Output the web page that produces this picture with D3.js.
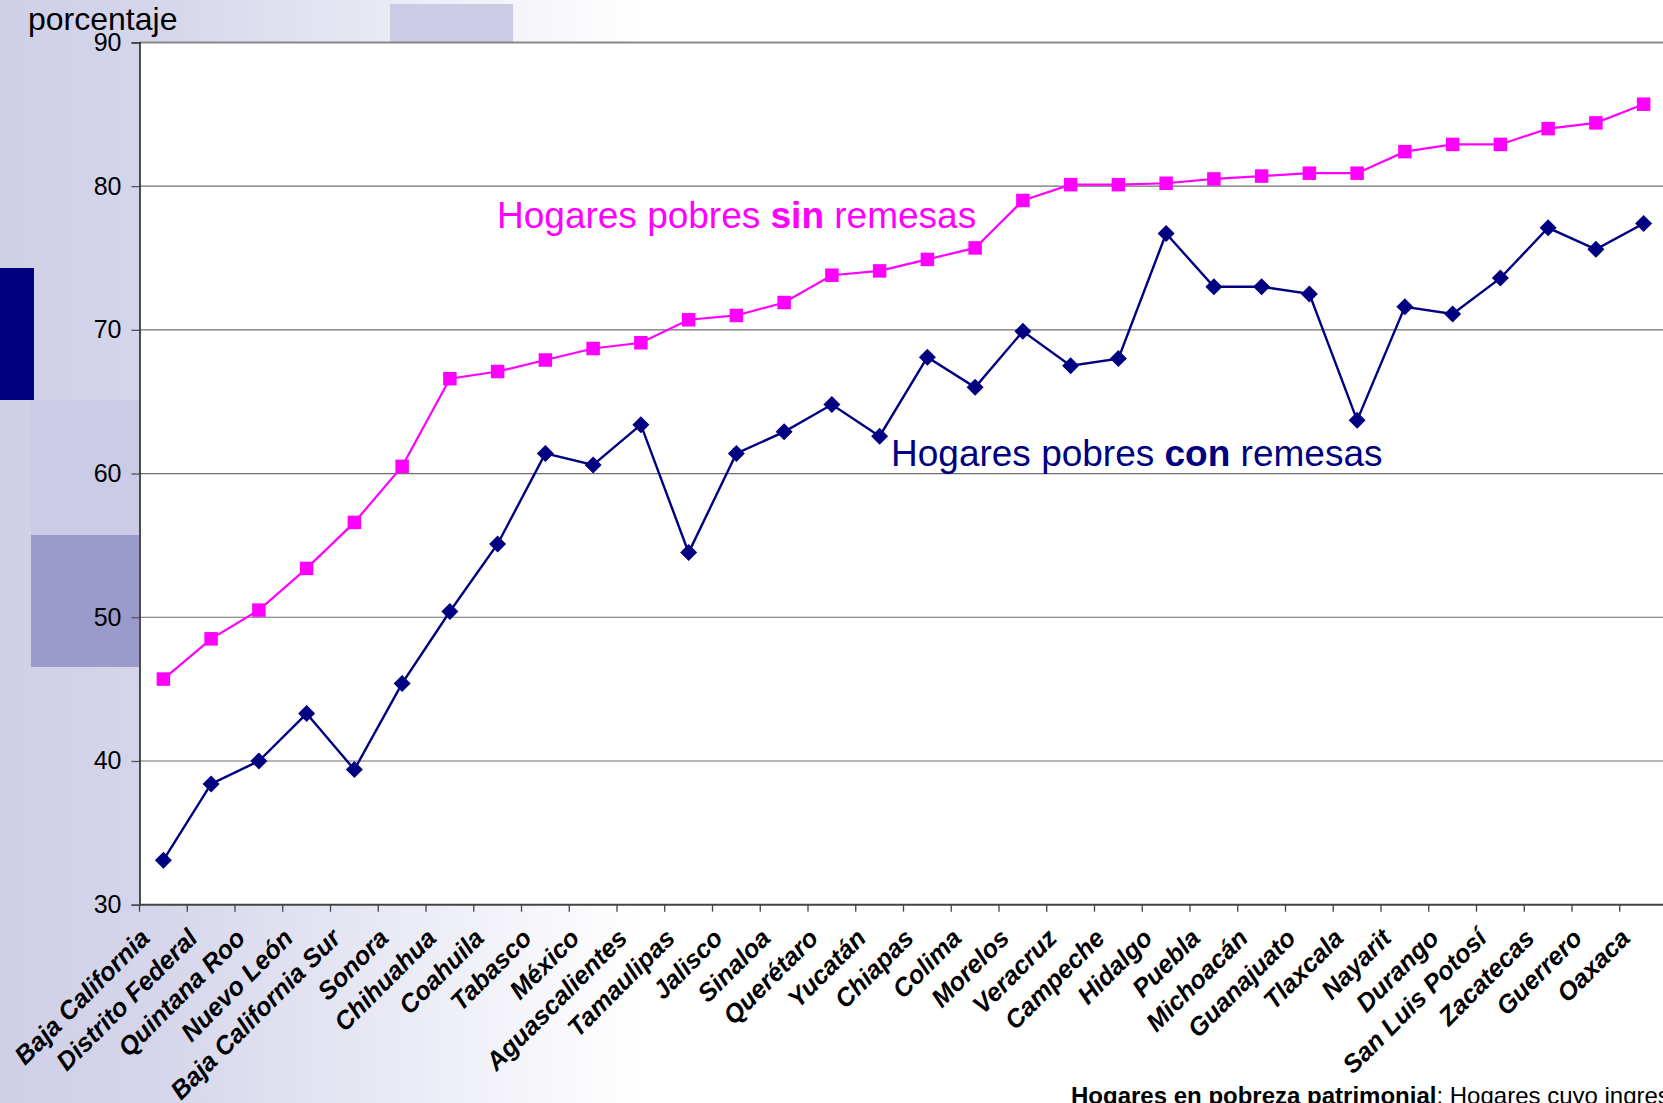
<!DOCTYPE html>
<html>
<head>
<meta charset="utf-8">
<script src="https://cdn.jsdelivr.net/npm/d3@7/dist/d3.min.js"></script>
<style>
  html, body { margin: 0; padding: 0; background: #fff; overflow: hidden; }
  svg { display: block; font-family: "Liberation Sans", Arial, sans-serif; }
</style>
</head>
<body>
<svg id="chart" width="1663" height="1103"></svg>
<script>
const categories = ["Baja California", "Distrito Federal", "Quintana Roo", "Nuevo León", "Baja California Sur",
  "Sonora", "Chihuahua", "Coahuila", "Tabasco", "México", "Aguascalientes", "Tamaulipas", "Jalisco",
  "Sinaloa", "Querétaro", "Yucatán", "Chiapas", "Colima", "Morelos", "Veracruz", "Campeche", "Hidalgo",
  "Puebla", "Michoacán", "Guanajuato", "Tlaxcala", "Nayarit", "Durango", "San Luis Potosí", "Zacatecas",
  "Guerrero", "Oaxaca"];
const sinRemesas = [45.7, 48.5, 50.5, 53.4, 56.6, 60.5, 66.6, 67.1, 67.9, 68.7, 69.1, 70.7, 71.0, 71.9,
  73.8, 74.1, 74.9, 75.7, 79.0, 80.1, 80.1, 80.2, 80.5, 80.7, 80.9, 80.9, 82.4, 82.9, 82.9, 84.0, 84.4, 85.7];
const conRemesas = [33.1, 38.4, 40.0, 43.3, 39.4, 45.4, 50.4, 55.1, 61.4, 60.6, 63.4, 54.5, 61.4, 62.9,
  64.8, 62.6, 68.1, 66.0, 69.9, 67.5, 68.0, 76.7, 73.0, 73.0, 72.5, 63.7, 71.6, 71.1, 73.6, 77.1, 75.6, 77.4];
const yTicks = [30, 40, 50, 60, 70, 80, 90];

(function () {
const W = 1663, H = 1103;
const pLeft = 139.5, pTop = 42.4, pBottom = 904.7, bandW = 47.75;
const pRight = pLeft + categories.length * bandW;

const svg = d3.select("#chart");
const defs = svg.append("defs");
const grad = defs.append("linearGradient").attr("id", "bg").attr("gradientUnits", "userSpaceOnUse")
  .attr("x1", 0).attr("y1", 0).attr("x2", 640).attr("y2", 0);
grad.append("stop").attr("offset", 0).attr("stop-color", "#cfd0e8");
grad.append("stop").attr("offset", 0.25).attr("stop-color", "#d5d6eb");
grad.append("stop").attr("offset", 1).attr("stop-color", "#ffffff");

// background
svg.append("rect").attr("width", W).attr("height", H).attr("fill", "url(#bg)");
svg.append("rect").attr("x", 390).attr("y", 4).attr("width", 123).attr("height", 38).attr("fill", "#cbcbe6");
svg.append("rect").attr("x", 0).attr("y", 268).attr("width", 34).attr("height", 132).attr("fill", "#000080");
svg.append("rect").attr("x", 31).attr("y", 400).attr("width", 108).attr("height", 135).attr("fill", "#cbcbe5");
svg.append("rect").attr("x", 31).attr("y", 535).attr("width", 108).attr("height", 132).attr("fill", "#9b9bcb");

const x = d3.scaleBand().domain(categories).range([pLeft, pRight]).padding(0);
const y = d3.scaleLinear().domain([30, 90]).range([pBottom, pTop]);

// plot area
svg.append("rect").attr("x", pLeft).attr("y", pTop).attr("width", pRight - pLeft).attr("height", pBottom - pTop).attr("fill", "#fff");

// gridlines
svg.append("g").selectAll("line").data(yTicks.filter(d => d > 30)).join("line")
  .attr("x1", pLeft).attr("x2", pRight)
  .attr("y1", d => y(d)).attr("y2", d => y(d))
  .attr("stroke", d => d === 90 ? "#888" : "#6e6e6e")
  .attr("stroke-width", d => d === 90 ? 2 : 1.2);

// y axis
const yAxis = svg.append("g").attr("transform", `translate(${pLeft},0)`)
  .call(d3.axisLeft(y).tickValues(yTicks).tickSize(8).tickPadding(10).tickFormat(d3.format("d")));
yAxis.select(".domain").attr("stroke", "#222").attr("stroke-width", 1.6);
yAxis.selectAll(".tick line").attr("stroke", "#555").attr("stroke-width", 1.3);
yAxis.selectAll(".tick text").attr("font-size", 25).attr("fill", "#000")
  .attr("font-family", "'Liberation Sans', Arial, sans-serif");

// x axis
const xg = svg.append("g");
xg.append("line").attr("x1", pLeft).attr("x2", pRight).attr("y1", pBottom).attr("y2", pBottom)
  .attr("stroke", "#444").attr("stroke-width", 2);
const boundaries = categories.map(c => x(c)).concat([pRight]);
xg.selectAll("line.tk").data(boundaries).join("line").attr("class", "tk")
  .attr("x1", d => d).attr("x2", d => d).attr("y1", pBottom).attr("y2", pBottom + 7)
  .attr("stroke", "#444").attr("stroke-width", 1.3);
xg.selectAll("text").data(categories).join("text")
  .attr("transform", d => `translate(${x(d) + x.bandwidth() / 2 - 12},${pBottom + 35}) rotate(-45)`)
  .attr("text-anchor", "end")
  .attr("font-size", 25.5).attr("font-weight", "bold").attr("font-style", "italic").attr("fill", "#000")
  .text(d => d);

// lines
const line = d3.line().x((d, i) => x(categories[i]) + x.bandwidth() / 2).y(d => y(d));
svg.append("path").datum(sinRemesas).attr("d", line).attr("fill", "none")
  .attr("stroke", "#ff00ff").attr("stroke-width", 2.2);
svg.append("path").datum(conRemesas).attr("d", line).attr("fill", "none")
  .attr("stroke", "#000080").attr("stroke-width", 2.4);

// markers
const ms = 13.5;
svg.append("g").selectAll("rect").data(sinRemesas).join("rect")
  .attr("x", (d, i) => x(categories[i]) + x.bandwidth() / 2 - ms / 2)
  .attr("y", d => y(d) - ms / 2).attr("width", ms).attr("height", ms).attr("fill", "#ff00ff");
const dm = 8.5;
svg.append("g").selectAll("path").data(conRemesas).join("path")
  .attr("transform", (d, i) => `translate(${x(categories[i]) + x.bandwidth() / 2},${y(d)})`)
  .attr("d", `M0,${-dm}L${dm},0L0,${dm}L${-dm},0Z`).attr("fill", "#000080");

// texts
svg.append("text").attr("x", 28).attr("y", 30).attr("font-size", 32).attr("fill", "#000").text("porcentaje");

const t1 = svg.append("text").attr("x", 497).attr("y", 228).attr("font-size", 37).attr("fill", "#ff00ff");
t1.append("tspan").text("Hogares pobres ");
t1.append("tspan").attr("font-weight", "bold").text("sin");
t1.append("tspan").text(" remesas");

const t2 = svg.append("text").attr("x", 891).attr("y", 466).attr("font-size", 37).attr("fill", "#000080");
t2.append("tspan").text("Hogares pobres ");
t2.append("tspan").attr("font-weight", "bold").text("con");
t2.append("tspan").text(" remesas");

const t3 = svg.append("text").attr("x", 1071).attr("y", 1104).attr("font-size", 24).attr("fill", "#000");
t3.append("tspan").attr("font-weight", "bold").text("Hogares en pobreza patrimonial");
t3.append("tspan").text(": Hogares cuyo ingreso");
})();
</script>
</body>
</html>
